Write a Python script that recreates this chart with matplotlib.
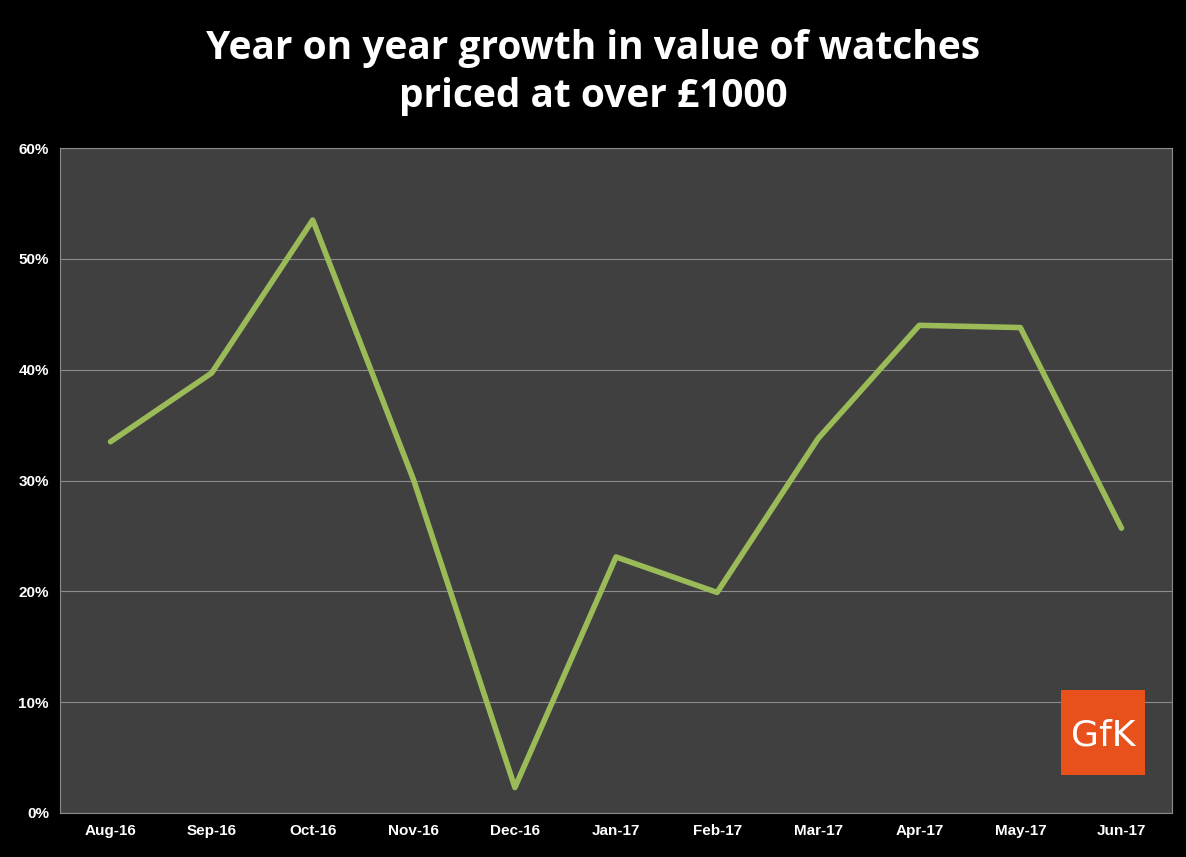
import matplotlib

matplotlib.use("Agg")
import matplotlib.pyplot as plt
from matplotlib.patches import Rectangle
from matplotlib.ticker import PercentFormatter

months = ["Aug-16", "Sep-16", "Oct-16", "Nov-16", "Dec-16", "Jan-17",
          "Feb-17", "Mar-17", "Apr-17", "May-17", "Jun-17"]
growth = [33.5, 39.7, 53.5, 30.0, 2.3, 23.1, 19.9, 33.8, 44.0, 43.8, 25.7]

fig = plt.figure(figsize=(11.86, 8.57), dpi=100, facecolor="black")
ax = fig.add_axes([60 / 1186, 1 - 813 / 857, 1112 / 1186, 665 / 857])
ax.set_facecolor("#404040")

x = range(len(months))
ax.plot(x, growth, color="#9BBB59", lw=4, solid_capstyle="round", zorder=3)

ax.set_xlim(-0.5, len(months) - 0.5)
ax.set_ylim(0, 60)
ax.set_yticks(range(0, 61, 10))
ax.yaxis.set_major_formatter(PercentFormatter(decimals=0))
ax.set_xticks(list(x))
ax.set_xticklabels(months)
ax.grid(axis="y", color="#8c8c8c", lw=0.8)
ax.set_axisbelow(True)
for s in ax.spines.values():
    s.set_color("#8c8c8c")
    s.set_linewidth(0.8)
ax.tick_params(colors="white", length=0, labelsize=11, pad=8)
for lbl in ax.get_xticklabels() + ax.get_yticklabels():
    lbl.set_fontweight("bold")
    lbl.set_fontfamily("Liberation Sans")

fig.text(0.5, 1 - 73 / 857, "Year on year growth in value of watches\npriced at over £1000",
         ha="center", va="center", color="white", fontsize=28, fontweight="bold",
         fontfamily="Open Sans", linespacing=1.3)

# GfK logo box
fig.patches.append(Rectangle((1061 / 1186, 1 - 775 / 857), 84 / 1186, 85 / 857,
                             transform=fig.transFigure, facecolor="#E8501C",
                             edgecolor="none", zorder=5))
fig.text(1103 / 1186, 1 - 735 / 857, "GfK", ha="center", va="center",
         color="white", fontsize=26, fontfamily="DejaVu Sans", zorder=6)

fig.savefig("out.png", dpi=100, facecolor="black")
